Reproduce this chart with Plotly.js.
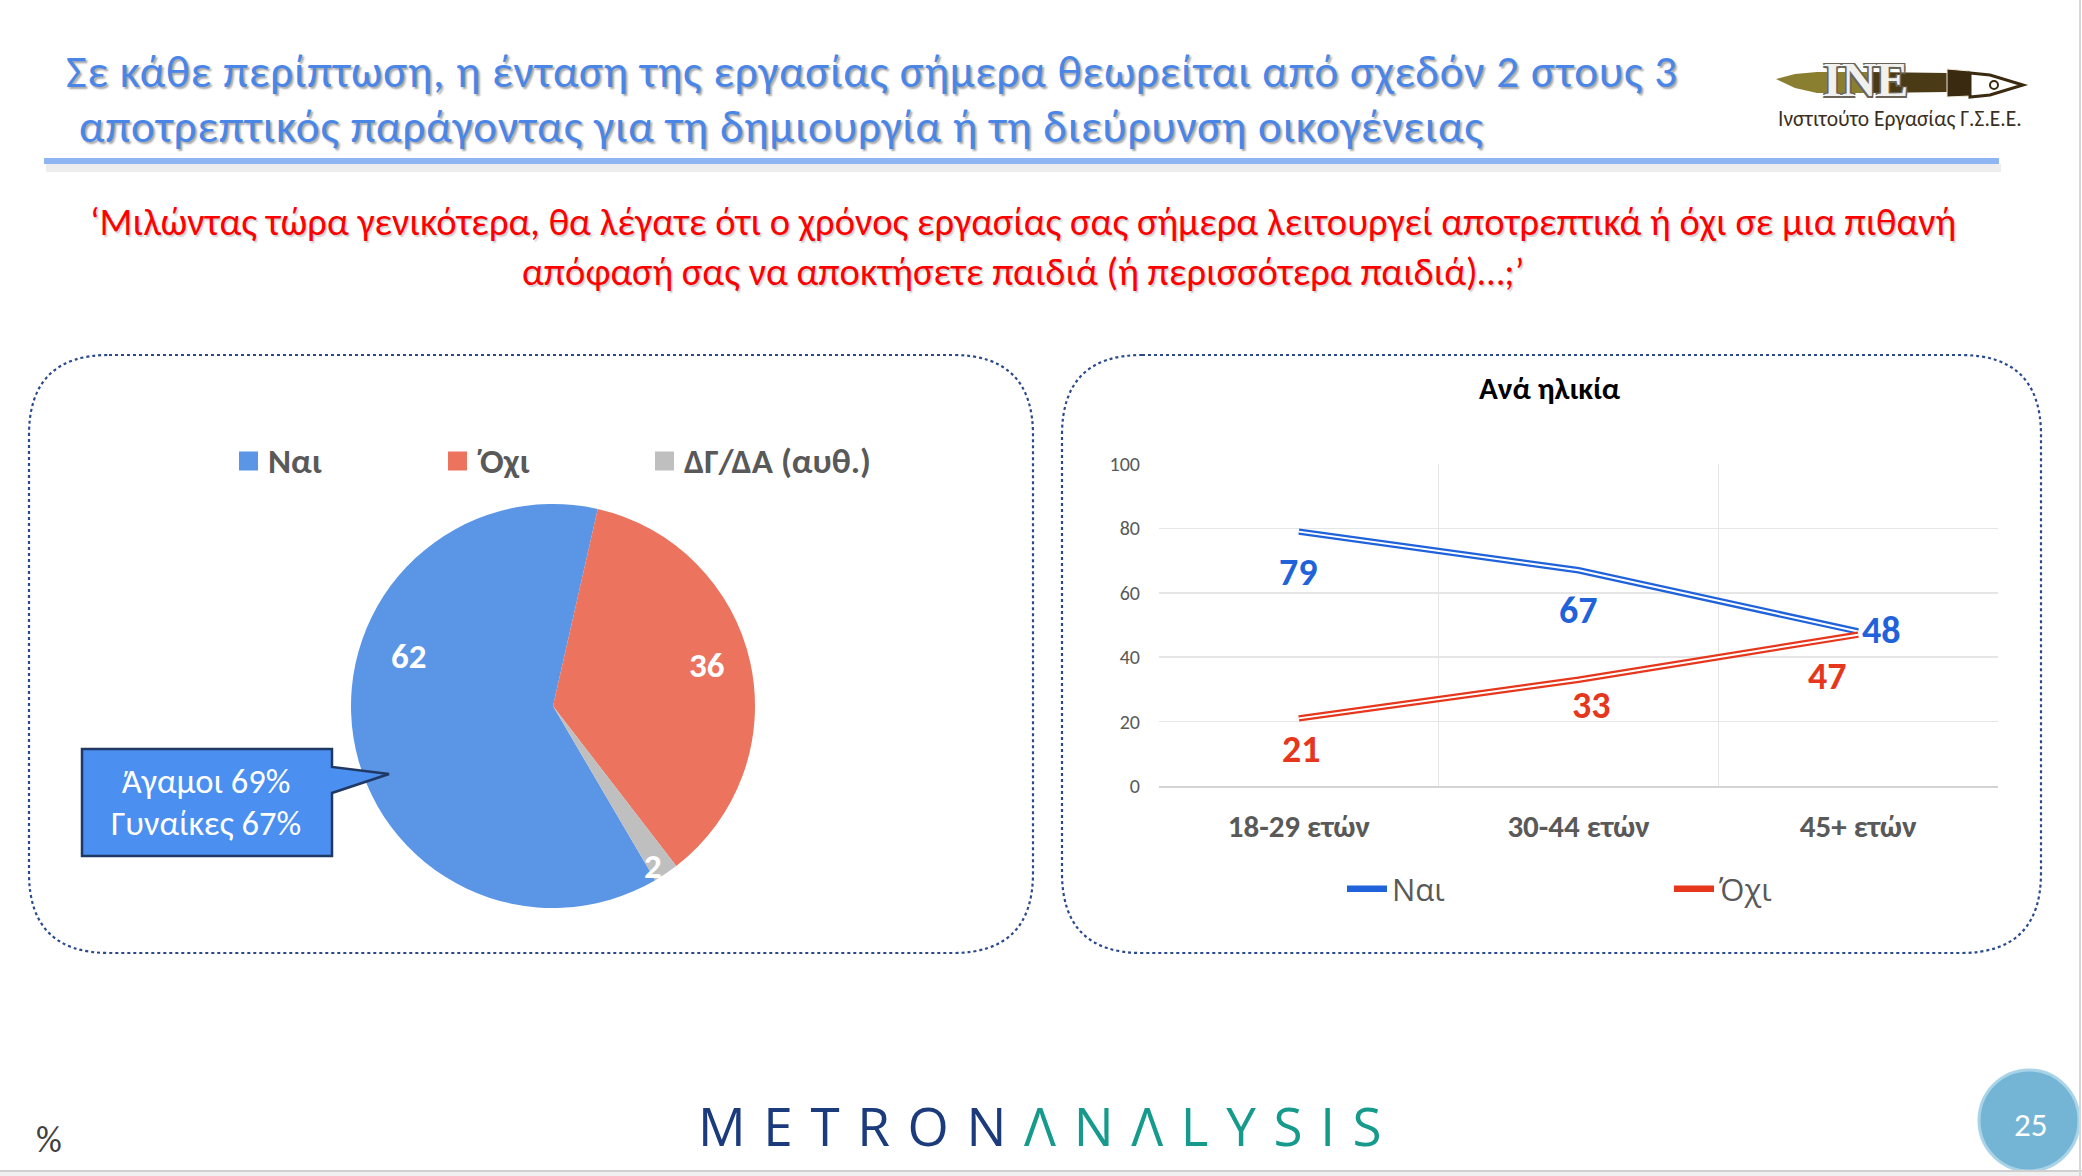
<!DOCTYPE html>
<html>
<head>
<meta charset="utf-8">
<script src="https://cdn.plot.ly/plotly-3.0.1.min.js"></script>
<style>html,body{margin:0;padding:0;background:#fff;overflow:hidden}#chart{width:2082px;height:1176px}</style>
</head>
<body>
<div id="chart"></div>
<script>
// ---- data ----
const pieLabels = ['Ναι', 'Όχι', 'ΔΓ/ΔΑ (αυθ.)'];
const pieValues = [62, 36, 2];
const ageCats = ['18-29 ετών', '30-44 ετών', '45+ ετών'];
const yesVals = [79, 67, 48];
const noVals = [21, 33, 47];
const calloutLines = ['Άγαμοι 69%', 'Γυναίκες 67%'];

// ---- styles / layout helpers ----
const W = 2082, H = 1176;
const FONT = "Carlito, Calibri, Roboto, 'Noto Sans', sans-serif";
const SANS2 = "'Open Sans', 'Noto Sans', sans-serif";
const pieColors = ['#5b95e5', '#ec735e', '#bfbfbf'];
const BLUE = '#1f62da', RED = '#e6361c', GRAY = '#595959';
const X = v => v / W, Y = v => 1 - v / H;

function roundRect(x0, y0, x1, y1, r) {
  const p = (x, y) => X(x) + ',' + Y(y);
  return 'M' + p(x0 + r, y0) + ' L' + p(x1 - r, y0) + ' Q' + p(x1, y0) + ' ' + p(x1, y0 + r) +
    ' L' + p(x1, y1 - r) + ' Q' + p(x1, y1) + ' ' + p(x1 - r, y1) +
    ' L' + p(x0 + r, y1) + ' Q' + p(x0, y1) + ' ' + p(x0, y1 - r) +
    ' L' + p(x0, y0 + r) + ' Q' + p(x0, y0) + ' ' + p(x0 + r, y0) + ' Z';
}
function poly(pts) {
  return 'M' + pts.map(q => X(q[0]) + ',' + Y(q[1])).join(' L') + ' Z';
}

const traces = [
  {
    type: 'pie', labels: pieLabels, values: pieValues, sort: false,
    direction: 'clockwise', rotation: 149.6,
    marker: {colors: pieColors, line: {width: 0}},
    textinfo: 'none', hoverinfo: 'none',
    domain: {x: [X(351), X(755)], y: [Y(908), Y(504)]},
    showlegend: false
  },
  {type: 'scatter', mode: 'lines', x: ageCats, y: yesVals, name: 'Ναι', line: {color: BLUE, width: 6.5}, legend: 'legend2', hoverinfo: 'none'},
  {type: 'scatter', mode: 'lines', x: ageCats, y: yesVals, name: 'Ναι', line: {color: '#ffffff', width: 2}, showlegend: false, hoverinfo: 'none'},
  {type: 'scatter', mode: 'lines', x: ageCats, y: noVals, name: 'Όχι', line: {color: RED, width: 6.5}, legend: 'legend2', hoverinfo: 'none'},
  {type: 'scatter', mode: 'lines', x: ageCats, y: noVals, name: 'Όχι', line: {color: '#ffffff', width: 2}, showlegend: false, hoverinfo: 'none'}
];

const ann = [];
function txt(x, y, text, size, color, opts) {
  ann.push(Object.assign({xref: 'paper', yref: 'paper', x: X(x), y: Y(y), text: text, showarrow: false,
    xanchor: 'center', yanchor: 'middle', font: {family: FONT, size: size, color: color}}, opts || {}));
}
// title
const t1 = 'Σε κάθε περίπτωση, η ένταση της εργασίας σήμερα θεωρείται από σχεδόν 2 στους 3';
const t2 = 'αποτρεπτικός παράγοντας για τη δημιουργία ή τη διεύρυνση οικογένειας';
const titleFont = {family: FONT, size: 45, color: '#4a86e8', shadow: '2px 2px 2px rgba(0,0,0,0.35)'};
txt(64, 71.5, '<span style="letter-spacing:0.85px">' + t1 + '</span>', 45, '#4a86e8', {xanchor: 'left', font: titleFont});
txt(77, 126.5, '<span style="letter-spacing:0.85px">' + t2 + '</span>', 45, '#4a86e8', {xanchor: 'left', font: titleFont});
// subtitle
const s1 = '‘Μιλώντας τώρα γενικότερα, θα λέγατε ότι ο χρόνος εργασίας σας σήμερα λειτουργεί αποτρεπτικά ή όχι σε μια πιθανή';
const s2 = 'απόφασή σας να αποκτήσετε παιδιά (ή περισσότερα παιδιά)…;’';
txt(1023, 247, s1 + '<br>' + s2, 38.5, '#ff0000',
  {align: 'center', font: {family: FONT, size: 38.5, color: '#ff0000', shadow: '1.5px 1.5px 1.5px rgba(0,0,0,0.2)'}});
// pie legend (custom, from pie labels/colours)
const pieLegendX = [239, 448, 655];
pieLabels.forEach((lab, i) => txt(pieLegendX[i] + 27, 461, lab, 35, GRAY,
  {xanchor: 'left', font: {family: FONT, size: 35, color: GRAY, weight: 'bold'}}));
// pie value labels
const pieLabelPos = [[408, 656], [706, 665], [653, 866]];
pieValues.forEach((v, i) => txt(pieLabelPos[i][0], pieLabelPos[i][1], String(v), 35, '#ffffff', {font: {family: FONT, size: 35, color: '#ffffff', weight: 'bold'}}));
// callout text
txt(206, 802, '<span style="font-size:34.5px">' + calloutLines[0] + '</span><br><span style="font-size:34.5px">' + calloutLines[1] + '</span>', 32.3, '#ffffff',
  {align: 'center'});
// right panel title
txt(1550, 388, 'Ανά ηλικία', 31, '#000000', {font: {family: FONT, size: 31, color: '#000000', weight: 'bold'}});
// line data labels
const yesShift = [[0, -40], [0, -40], [23, 1]];
const noShift = [[3, -31], [13, -25], [-31, -41]];
yesVals.forEach((v, i) => ann.push({xref: 'x', yref: 'y', x: i, y: v, text: String(v), showarrow: false,
  xshift: yesShift[i][0], yshift: yesShift[i][1], font: {family: FONT, size: 38, color: BLUE, weight: 'bold'}}));
noVals.forEach((v, i) => ann.push({xref: 'x', yref: 'y', x: i, y: v, text: String(v), showarrow: false,
  xshift: noShift[i][0], yshift: noShift[i][1], font: {family: FONT, size: 38, color: RED, weight: 'bold'}}));
// logo INE text
txt(1865, 79, 'INE', 48, '#f0f0ec', {font: {family: "'Liberation Serif', 'DejaVu Serif', serif", size: 48, color: '#f0f0ec', weight: 'bold',
  shadow: '1.5px 1.5px 0 #6a6458, -1.5px -1.5px 0 #6a6458, 1.5px -1.5px 0 #6a6458, -1.5px 1.5px 0 #6a6458'}});
txt(1900, 119, 'Ινστιτούτο Εργασίας Γ.Σ.Ε.Ε.', 21.5, '#3a2f1e');
// footer
txt(49, 1140, '%', 36, '#404040');
const sp = '\u2004';
txt(1040, 1125, '<span style="color:#1b3b7c">' + 'METRON'.split('').join(sp) + '</span>' + sp +
  '<span style="color:#169a8c">' + 'ΛNΛLYSIS'.split('').join(sp) + '</span>', 53, '#1b3b7c',
  {font: {family: SANS2, size: 53, color: '#1b3b7c'}});
txt(2030, 1125, '25', 33, '#ffffff');

const shapes = [
  // separator line + shadow
  {type: 'rect', xref: 'paper', yref: 'paper', x0: X(46), x1: X(2001), y0: Y(172), y1: Y(164), fillcolor: 'rgba(0,0,0,0.07)', line: {width: 0}},
  {type: 'rect', xref: 'paper', yref: 'paper', x0: X(44), x1: X(1999), y0: Y(164), y1: Y(158), fillcolor: '#8fb6f2', line: {width: 0}},
  // panels
  {type: 'path', xref: 'paper', yref: 'paper', path: roundRect(29, 355, 1033, 953, 80), line: {color: '#2a4a8c', width: 2.2, dash: 'dot'}},
  {type: 'path', xref: 'paper', yref: 'paper', path: roundRect(1062, 355, 2041, 953, 80), line: {color: '#2a4a8c', width: 2.2, dash: 'dot'}},
  // callout
  {type: 'path', xref: 'paper', yref: 'paper', path: poly([[82, 749], [332, 749], [332, 767], [389, 774], [332, 793], [332, 856], [82, 856]]), fillcolor: '#4b8ff0', line: {color: '#1f3864', width: 2.5}},
  // INE pen: blade (olive), body (dark), rings, nib
  {type: 'path', xref: 'paper', yref: 'paper', path: poly([[1776, 79], [1795, 74], [1817, 72], [1870, 72], [1870, 93], [1817, 93], [1795, 88]]), fillcolor: '#8a7f30', line: {width: 0}},
  {type: 'path', xref: 'paper', yref: 'paper', path: poly([[1870, 72], [1947, 73], [1947, 92], [1870, 93]]), fillcolor: '#4a3a16', line: {width: 0}},
  {type: 'path', xref: 'paper', yref: 'paper', path: poly([[1947, 69], [1970, 71], [1970, 96], [1947, 97]]), fillcolor: '#3a2a10', line: {color: '#f0e8d8', width: 1}},
  {type: 'path', xref: 'paper', yref: 'paper', path: poly([[1970, 73], [1990, 75], [2023, 85], [1990, 95], [1970, 97]]), fillcolor: '#ffffff', line: {color: '#3a2a10', width: 3}},
  {type: 'circle', xref: 'paper', yref: 'paper', x0: X(1990), x1: X(1998), y0: Y(89), y1: Y(81), fillcolor: '#ffffff', line: {color: '#3a2a10', width: 2}},
  // page number bubble
  {type: 'circle', xref: 'paper', yref: 'paper', x0: X(1979), x1: X(2079), y0: Y(1171), y1: Y(1070), fillcolor: '#74b5d6', line: {color: '#a9d4e8', width: 3}},
  // slide border
  {type: 'rect', xref: 'paper', yref: 'paper', x0: 0, x1: 1, y0: 0, y1: Y(1171), fillcolor: '#f0f0f0', line: {width: 0}},
  {type: 'line', xref: 'paper', yref: 'paper', x0: 0, x1: 1, y0: Y(1171), y1: Y(1171), line: {color: '#cfcfcf', width: 2}},
  {type: 'line', xref: 'paper', yref: 'paper', x0: X(2080), x1: X(2080), y0: 0, y1: 1, line: {color: '#d6d6d6', width: 2}}
];
// pie legend squares
pieColors.forEach((c, i) => shapes.push({type: 'rect', xref: 'paper', yref: 'paper',
  x0: X(pieLegendX[i]), x1: X(pieLegendX[i] + 19), y0: Y(470.5), y1: Y(451.5), fillcolor: c, line: {width: 0}}));

const layout = {
  width: W, height: H, margin: {l: 0, r: 0, t: 0, b: 0},
  paper_bgcolor: '#ffffff', plot_bgcolor: '#ffffff',
  font: {family: FONT, color: GRAY},
  xaxis: {domain: [X(1159), X(1998)], anchor: 'y', type: 'category', range: [-0.5, 2.5], tickson: 'boundaries',
    showgrid: true, gridcolor: '#e6e6e6', gridwidth: 1.5, showline: true, linecolor: '#d4d4d4', linewidth: 2,
    ticks: '', tickfont: {family: FONT, size: 31, color: GRAY, weight: 'bold'}, ticklabelstandoff: 12, fixedrange: true, zeroline: false},
  yaxis: {domain: [Y(786), Y(464)], anchor: 'x', range: [0, 100], tickvals: [0, 20, 40, 60, 80, 100],
    showgrid: true, gridcolor: '#e6e6e6', gridwidth: 1.5, zeroline: false, showline: false, ticks: '',
    tickfont: {family: FONT, size: 20, color: GRAY}, ticklabelstandoff: 18, fixedrange: true},
  legend2: {orientation: 'h', x: X(1342), y: Y(889), xanchor: 'left', yanchor: 'middle', entrywidth: 272, entrywidthmode: 'pixels',
    itemwidth: 40, font: {family: SANS2, size: 31, color: GRAY}, bgcolor: 'rgba(0,0,0,0)', traceorder: 'normal'},
  annotations: ann, shapes: shapes, hovermode: false
};

Plotly.newPlot('chart', traces, layout, {displayModeBar: false, staticPlot: true});
</script>
</body>
</html>
